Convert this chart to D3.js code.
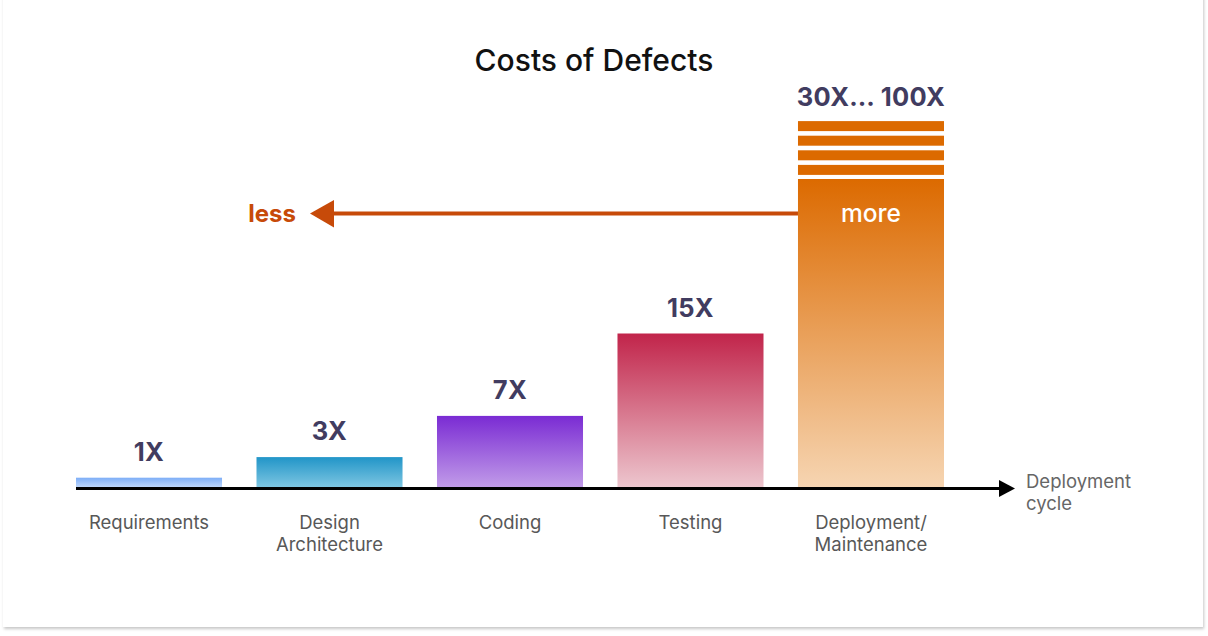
<!DOCTYPE html>
<html>
<head>
<meta charset="utf-8">
<script src="https://cdn.jsdelivr.net/npm/d3@7"></script>
<style>
  html, body { margin: 0; padding: 0; background: #ffffff; }
  svg { display: block; font-family: Inter, "Noto Sans", sans-serif; }
</style>
</head>
<body>
<svg id="chart" width="1208" height="636"></svg>
<script>
// ---- data ----
const categories = [["Requirements"], ["Design", "Architecture"], ["Coding"], ["Testing"], ["Deployment/", "Maintenance"]];
const values = [1, 3, 7, 15, 30];
const valueLabels = ["1X", "3X", "7X", "15X", "30X\u2026 100X"];
const topColors = ["#7eaef7", "#2195c8", "#7a2bd3", "#c1244a", "#dc6a00"];
const bottomColors = ["#c3dafc", "#80c7e2", "#c29de9", "#edc7cf", "#f6d5b2"];
const stripeCount = 4;
const titleText = "Costs of Defects";
const axisLabel = ["Deployment", "cycle"];

// ---- layout ----
const svg = d3.select("#chart");
const W = 1208, H = 636;
const axisY = 488;

const defs = svg.append("defs");
const shadow = defs.append("filter").attr("id", "shadow")
  .attr("x", "-5%").attr("y", "-5%").attr("width", "110%").attr("height", "115%");
shadow.append("feDropShadow").attr("dx", 1).attr("dy", 2).attr("stdDeviation", 1.6)
  .attr("flood-color", "#000").attr("flood-opacity", 0.22);

svg.append("rect").attr("x", 0).attr("y", 0).attr("width", W).attr("height", H).attr("fill", "#ffffff");
svg.append("rect").attr("x", 3).attr("y", -10).attr("width", 1200).attr("height", 637)
  .attr("fill", "#ffffff").attr("filter", "url(#shadow)");

const x = d3.scaleBand().domain(d3.range(values.length)).range([76, 944]).paddingInner(0.191).paddingOuter(0);
const y = d3.scaleLinear().domain([0, 30]).range([axisY, 179]);

values.forEach((v, i) => {
  const g = defs.append("linearGradient").attr("id", "grad" + i)
    .attr("x1", 0).attr("y1", 0).attr("x2", 0).attr("y2", 1);
  g.append("stop").attr("offset", "0%").attr("stop-color", topColors[i]);
  g.append("stop").attr("offset", "100%").attr("stop-color", bottomColors[i]);
});

// title
svg.append("text").attr("x", 594).attr("y", 71).attr("text-anchor", "middle")
  .attr("font-size", 30).attr("font-weight", 500).attr("fill", "#111").text(titleText);

// bars
svg.append("g").selectAll("rect").data(values).join("rect")
  .attr("x", (d, i) => x(i)).attr("y", d => y(d))
  .attr("width", x.bandwidth()).attr("height", d => axisY - y(d))
  .attr("fill", (d, i) => `url(#grad${i})`);

// stripes above the last bar (30X ... 100X)
const last = values.length - 1;
svg.append("g").selectAll("rect").data(d3.range(stripeCount)).join("rect")
  .attr("x", x(last)).attr("width", x.bandwidth())
  .attr("y", k => y(values[last]) - 14.6 * (k + 1) + 0.5)
  .attr("height", 10)
  .attr("fill", topColors[last]);

// value labels
svg.append("g").selectAll("text").data(values).join("text")
  .attr("x", (d, i) => x(i) + x.bandwidth() / 2)
  .attr("y", (d, i) => (i === last ? y(d) - 73 : y(d) - 17))
  .attr("text-anchor", "middle").attr("font-size", 25.5).attr("font-weight", 700)
  .attr("letter-spacing", 0.3)
  .attr("fill", "#413c60").text((d, i) => valueLabels[i]);

// category labels
const cat = svg.append("g").selectAll("text").data(categories).join("text")
  .attr("x", (d, i) => x(i) + x.bandwidth() / 2)
  .attr("y", 529).attr("text-anchor", "middle").attr("font-size", 18.5)
  .attr("fill", "#585858");
cat.selectAll("tspan").data(d => d).join("tspan")
  .attr("x", function () { return d3.select(this.parentNode).attr("x"); })
  .attr("dy", (d, j) => j === 0 ? 0 : 22).text(d => d);

// x axis arrow
svg.append("line").attr("x1", 76).attr("x2", 1001).attr("y1", axisY + 0.5).attr("y2", axisY + 0.5)
  .attr("stroke", "#000").attr("stroke-width", 3);
svg.append("path").attr("d", `M999,${axisY - 8} L1015,${axisY + 0.5} L999,${axisY + 9} Z`).attr("fill", "#000");
svg.append("text").attr("x", 1026).attr("y", 488).attr("font-size", 18.5).attr("fill", "#666")
  .selectAll("tspan").data(axisLabel).join("tspan").attr("x", 1026)
  .attr("dy", (d, j) => j === 0 ? 0 : 22).text(d => d);

// less/more arrow
const arrowColor = "#c74a09";
svg.append("line").attr("x1", x(last)).attr("x2", 330).attr("y1", 213.5).attr("y2", 213.5)
  .attr("stroke", arrowColor).attr("stroke-width", 4);
svg.append("path").attr("d", "M310,213.5 L334,200 L334,227.5 Z").attr("fill", arrowColor);
svg.append("text").attr("x", 272).attr("y", 222).attr("text-anchor", "middle")
  .attr("font-size", 24).attr("font-weight", 700).attr("fill", arrowColor).text("less");
svg.append("text").attr("x", x(last) + x.bandwidth() / 2).attr("y", 222).attr("text-anchor", "middle")
  .attr("font-size", 24.5).attr("font-weight", 500).attr("fill", "#ffffff").text("more");
</script>
</body>
</html>
